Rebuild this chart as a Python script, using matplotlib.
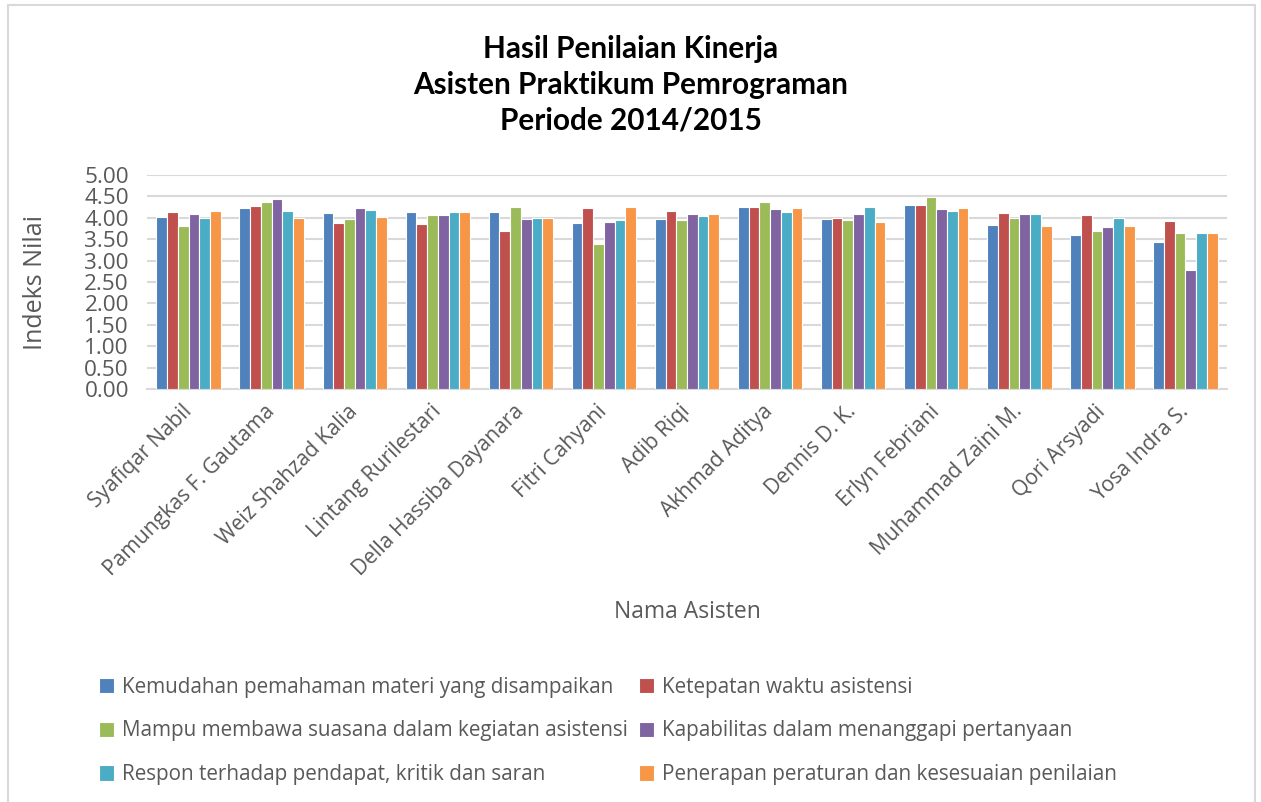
import matplotlib
matplotlib.use("Agg")
import matplotlib.pyplot as plt
from matplotlib.patches import Rectangle
import numpy as np

plt.rcParams['font.family'] = ['Open Sans', 'DejaVu Sans']

# data
names = ["Syafiqar Nabil", "Pamungkas F. Gautama", "Weiz Shahzad Kalia",
         "Lintang Rurilestari", "Della Hassiba Dayanara", "Fitri Cahyani",
         "Adib Riqi", "Akhmad Aditya", "Dennis D. K.", "Erlyn Febriani",
         "Muhammad Zaini M.", "Qori Arsyadi", "Yosa Indra S."]

kemudahan = [4.03, 4.22, 4.11, 4.14, 4.13, 3.87, 3.97, 4.26, 3.97, 4.29, 3.83, 3.59, 3.43]
ketepatan = [4.14, 4.27, 3.88, 3.86, 3.68, 4.22, 4.17, 4.26, 4.00, 4.29, 4.12, 4.07, 3.93]
suasana   = [3.81, 4.36, 3.97, 4.07, 4.25, 3.39, 3.94, 4.38, 3.94, 4.49, 4.00, 3.70, 3.64]
kapabilitas = [4.10, 4.45, 4.22, 4.07, 3.97, 3.91, 4.08, 4.20, 4.08, 4.20, 4.08, 3.78, 2.78]
respon    = [4.00, 4.17, 4.19, 4.14, 4.00, 3.95, 4.05, 4.14, 4.26, 4.17, 4.08, 4.00, 3.64]
penerapan = [4.17, 4.00, 4.02, 4.14, 4.00, 4.25, 4.08, 4.23, 3.91, 4.23, 3.80, 3.81, 3.64]

series_labels = ["Kemudahan pemahaman materi yang disampaikan",
                 "Ketepatan waktu asistensi",
                 "Mampu membawa suasana dalam kegiatan asistensi",
                 "Kapabilitas dalam menanggapi pertanyaan",
                 "Respon terhadap pendapat, kritik dan saran",
                 "Penerapan peraturan dan kesesuaian penilaian"]
series = [kemudahan, ketepatan, suasana, kapabilitas, respon, penerapan]
colors = ["#4F81BD", "#C0504D", "#9BBB59", "#8064A2", "#4BACC6", "#F79646"]

text_col = "#595959"

fig = plt.figure(figsize=(12.61, 8.02), dpi=100)
fig.patches.append(Rectangle((8 / 1261, -0.01), (1255 - 8) / 1261, (802 - 5) / 802 + 0.01,
                             transform=fig.transFigure, fill=False,
                             edgecolor="#D9D9D9", linewidth=1.5))

ax = fig.add_axes([147 / 1261, 1 - 389 / 802, 1080 / 1261, 214 / 802])

x = np.arange(len(names))
bw = 0.775 / 6
for i, (vals, lab, col) in enumerate(zip(series, series_labels, colors)):
    ax.bar(x - 0.775 / 2 + bw * (i + 0.5), vals, width=bw, color=col,
           edgecolor="white", linewidth=0.8, label=lab, zorder=3)

ax.set_xlim(-0.5, len(names) - 0.5)
ax.set_ylim(0, 5)
ax.set_yticks(np.arange(0, 5.01, 0.5))
ax.set_yticklabels([f"{v:.2f}" for v in np.arange(0, 5.01, 0.5)])
ax.yaxis.grid(True, color="#D9D9D9", linewidth=1.5, zorder=0)
for s in ["top", "right", "left"]:
    ax.spines[s].set_visible(False)
ax.spines["bottom"].set_color("#D9D9D9")
ax.spines["bottom"].set_linewidth(1.5)
ax.tick_params(axis="y", length=0, labelsize=16.2, colors=text_col, pad=13)
ax.tick_params(axis="x", length=0, labelsize=15.2, colors=text_col, pad=14)
ax.set_xticks(x)
ax.set_xticklabels(names, rotation=45, ha="right", va="center", rotation_mode="anchor")

fig.text(35 / 1261, 1 - 282 / 802, "Indeks Nilai", fontsize=18, color=text_col,
         ha="center", va="center", rotation=90)
fig.text(687 / 1261, 1 - 612 / 802, "Nama Asisten", fontsize=16.5, color=text_col,
         ha="center", va="center")

fig.text(631 / 1261, 1 - 85 / 802, "Hasil Penilaian Kinerja\nAsisten Praktikum Pemrograman\nPeriode 2014/2015",
         fontsize=21.4, fontweight="bold", color="black", ha="center", va="center",
         linespacing=1.33, family=["Lato", "DejaVu Sans"])

handles, labels = ax.get_legend_handles_labels()
order = [0, 2, 4, 1, 3, 5]
fig.legend([handles[k] for k in order], [labels[k] for k in order], ncol=2, loc="upper left",
           bbox_to_anchor=(80 / 1261, 1 - 658 / 802), frameon=False,
           fontsize=14.9, labelcolor=text_col, handlelength=0.75, handleheight=0.75,
           handletextpad=0.4, columnspacing=0.5, labelspacing=1.1)

fig.savefig("out.png", dpi=100)
